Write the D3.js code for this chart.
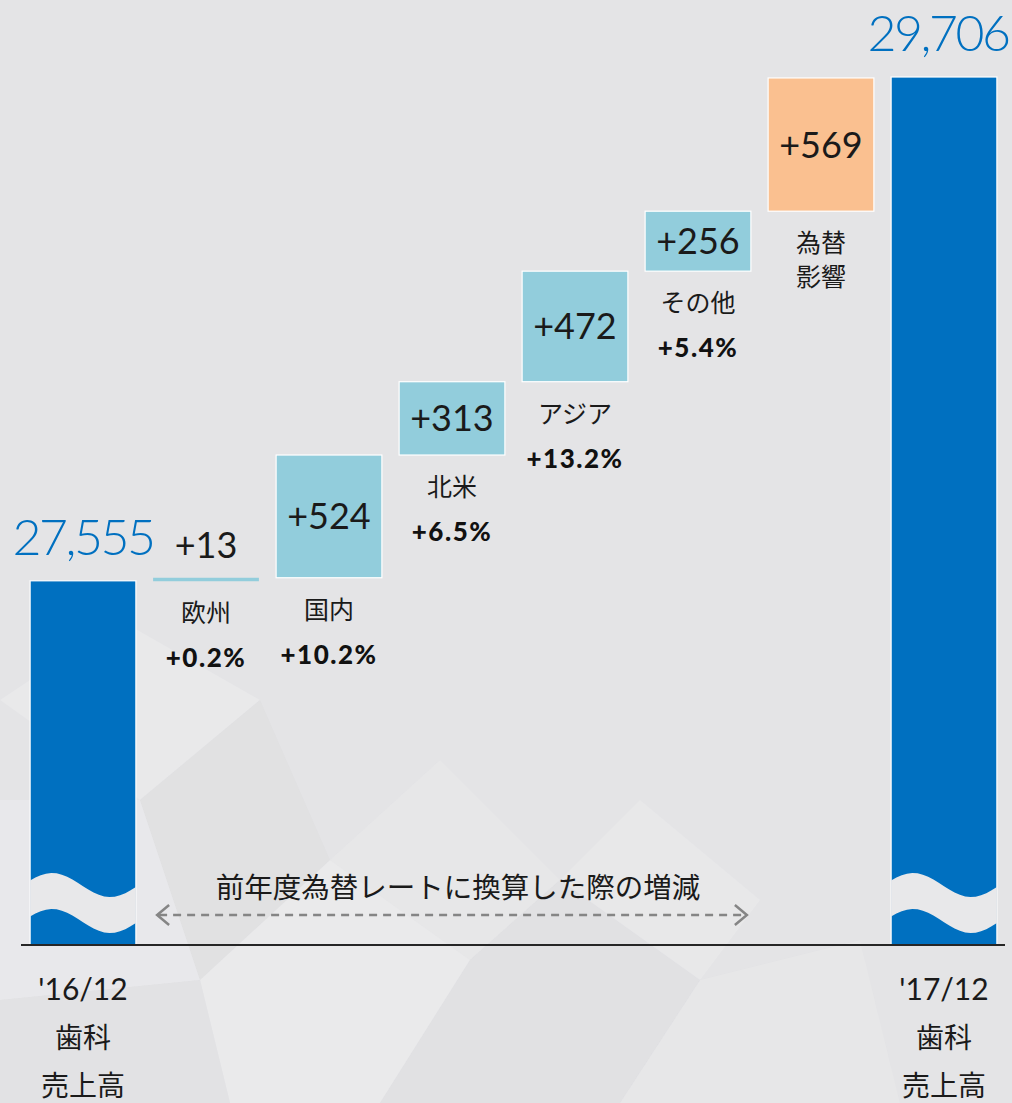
<!DOCTYPE html>
<html>
<head>
<meta charset="utf-8">
<script src="https://cdnjs.cloudflare.com/ajax/libs/d3/7.8.5/d3.min.js"></script>
<style>
    body { margin: 0; background: #e4e4e6; }
    #chart { width: 1012px; height: 1103px; }
    .num { font-family: Lato, "Noto Sans CJK JP", sans-serif; }
    .jp { font-family: "Noto Sans CJK JP", sans-serif; }
</style>
</head>
<body>
<div id="chart"></div>
<script>

/*
DATA
*/

const stepNames = ["start", "欧州", "国内", "北米", "アジア", "その他", "為替影響", "end"];
const startValue = 27555;
const endValue = 29706;
const deltas = [13, 524, 313, 472, 256, 569];
const deltaLabels = ["+13", "+524", "+313", "+472", "+256", "+569"];
const catLines = [["欧州"], ["国内"], ["北米"], ["アジア"], ["その他"], ["為替", "影響"]];
const growthLabels = ["+0.2%", "+10.2%", "+6.5%", "+13.2%", "+5.4%", ""];
const totalLabels = ["27,555", "29,706"];
const periodLines = [["'16/12", "歯科", "売上高"], ["'17/12", "歯科", "売上高"]];
const axisFloor = 26000; // broken axis, bars start here
const noteText = "前年度為替レートに換算した際の増減";

/*
CANVAS
*/

const width = 1012;
const height = 1103;
const baseY = 945;
const topY = 77;

const svg = d3.select("#chart")
    .append("svg")
    .attr("width", width)
    .attr("height", height);

// background facets (kept faint)
const bg = svg.append("g");
bg.append("rect").attr("width", width).attr("height", height).attr("fill", "#e4e4e6");
const facets = [
    {p: [[0,700],[120,620],[260,700],[140,800]], f: "#ffffff", o: 0.18},
    {p: [[0,800],[140,800],[200,980],[0,1000]], f: "#f2f2f3", o: 0.35},
    {p: [[140,800],[260,700],[330,860],[200,980]], f: "#d6d6d8", o: 0.25},
    {p: [[200,980],[330,860],[470,960],[380,1103],[230,1103]], f: "#ffffff", o: 0.22},
    {p: [[330,860],[440,760],[560,880],[470,960]], f: "#f0f0f1", o: 0.25},
    {p: [[470,960],[560,880],[700,980],[620,1103],[380,1103]], f: "#d8d8da", o: 0.25},
    {p: [[560,880],[640,800],[760,900],[700,980]], f: "#ffffff", o: 0.15},
    {p: [[0,1000],[200,980],[230,1103],[0,1103]], f: "#dcdcde", o: 0.25},
    {p: [[700,980],[860,940],[900,1103],[620,1103]], f: "#efeff0", o: 0.25}
];
bg.selectAll("polygon")
    .data(facets)
    .enter()
    .append("polygon")
    .attr("points", function(d){ return d.p.map(function(q){ return q.join(","); }).join(" "); })
    .attr("fill", function(d){ return d.f; })
    .attr("opacity", function(d){ return d.o; });

/*
WATERFALL DATA
*/

const bars = [];
let running = startValue;
bars.push({name: stepNames[0], y0: axisFloor, y1: startValue, kind: "total"});
deltas.forEach(function(d, i){
    bars.push({name: stepNames[i+1], y0: running, y1: running + d, kind: i == deltas.length - 1 ? "fx" : "delta", i: i});
    running += d;
});
bars.push({name: stepNames[7], y0: axisFloor, y1: endValue, kind: "total"});

/*
SCALES
*/

const xScale = d3.scaleBand()
    .domain(stepNames)
    .range([21.5, 1005.5])
    .paddingInner(0.14)
    .paddingOuter(0.07);

const yScale = d3.scaleLinear()
    .domain([axisFloor, endValue])
    .range([baseY, topY]);

const colors = {total: "#0070c0", delta: "#92cddc", fx: "#fac090"};

/*
BARS
*/

svg.selectAll(".bar")
    .data(bars)
    .enter()
    .append("rect")
    .attr("class", "bar")
    .attr("x", function(d){ return xScale(d.name); })
    .attr("y", function(d){ return yScale(d.y1); })
    .attr("width", xScale.bandwidth())
    .attr("height", function(d){ return Math.max(yScale(d.y0) - yScale(d.y1), 3.5); })
    .attr("fill", function(d){ return colors[d.kind]; })
    .attr("stroke", "#ffffff")
    .attr("stroke-width", function(d){ return yScale(d.y0) - yScale(d.y1) < 10 ? 0 : 1.2; });

// axis break waves on the total bars
const bw = xScale.bandwidth();
function waveY(t){ return 885 - 12 * Math.cos(2 * Math.PI * (t * bw - 22) / 116); }
const ts = d3.range(0, 1.0001, 0.05);
[stepNames[0], stepNames[7]].forEach(function(n){
    const x0 = xScale(n);
    const topEdge = ts.map(function(t){ return [x0 + t * bw, waveY(t)]; });
    const botEdge = ts.slice().reverse().map(function(t){ return [x0 + t * bw, waveY(t) + 36]; });
    svg.append("path")
        .attr("d", d3.line()(topEdge.concat(botEdge)) + "Z")
        .attr("fill", "#e8e8ea");
});

/*
AXIS LINE
*/

svg.append("line")
    .attr("x1", 21).attr("x2", 1005)
    .attr("y1", baseY).attr("y2", baseY)
    .attr("stroke", "#262626")
    .attr("stroke-width", 2);

/*
LABELS
*/

const totals = [bars[0], bars[7]];
totals.forEach(function(d, i){
    svg.append("text")
        .attr("class", "num")
        .attr("x", xScale(d.name) + bw / 2 + (i == 1 ? -6 : 0))
        .attr("y", yScale(d.y1) - 26)
        .attr("text-anchor", "middle")
        .attr("fill", "#0070c0")
        .style("font-size", "50px")
        .style("font-weight", 300)
        .style("letter-spacing", "-2.5px")
        .text(totalLabels[i]);

    periodLines[i].forEach(function(line, j){
        svg.append("text")
            .attr("class", j == 0 ? "num" : "jp")
            .attr("x", xScale(d.name) + bw / 2)
            .attr("y", 1000 + j * 48)
            .attr("text-anchor", "middle")
            .attr("fill", "#1a1a1a")
            .style("font-size", j == 0 ? "30px" : "28px")
            .text(line);
    });
});

const deltaBars = bars.filter(function(d){ return d.kind != "total"; });
deltaBars.forEach(function(d, i){
    const cx = xScale(d.name) + bw / 2;
    const top = yScale(d.y1);
    const bottom = yScale(d.y0);
    const small = bottom - top < 40;

    svg.append("text")
        .attr("class", "num")
        .attr("x", cx)
        .attr("y", small ? top - 20 : (top + bottom) / 2 + 13)
        .attr("text-anchor", "middle")
        .attr("fill", "#1a1a1a")
        .style("font-size", "36px")
        .style("font-weight", 400)
        .text(deltaLabels[i]);

    catLines[i].forEach(function(line, j){
        svg.append("text")
            .attr("class", "jp")
            .attr("x", cx)
            .attr("y", bottom + 41 + j * 34)
            .attr("text-anchor", "middle")
            .attr("fill", "#1a1a1a")
            .style("font-size", "25px")
            .text(line);
    });

    if (growthLabels[i] != ""){
        svg.append("text")
            .attr("class", "num")
            .attr("x", cx)
            .attr("y", bottom + 86)
            .attr("text-anchor", "middle")
            .attr("fill", "#111")
            .style("font-size", "26px")
            .style("font-weight", 900)
            .style("letter-spacing", "1.5px")
            .text(growthLabels[i]);
    }
});

/*
NOTE + DASHED ARROW
*/

const arrowX1 = xScale(stepNames[1]) + 2;
const arrowX2 = xScale(stepNames[5]) + bw - 2;
const arrowY = 915;

svg.append("text")
    .attr("class", "jp")
    .attr("x", (arrowX1 + arrowX2) / 2 + 6)
    .attr("y", 898)
    .attr("text-anchor", "middle")
    .attr("fill", "#1a1a1a")
    .style("font-size", "28.5px")
    .text(noteText);

svg.append("line")
    .attr("x1", arrowX1 + 4).attr("x2", arrowX2 - 4)
    .attr("y1", arrowY).attr("y2", arrowY)
    .attr("stroke", "#858585")
    .attr("stroke-width", 2.5)
    .attr("stroke-dasharray", "8,6");

svg.append("path")
    .attr("d", `M${arrowX1 + 14},${arrowY - 10} L${arrowX1 + 2},${arrowY} L${arrowX1 + 14},${arrowY + 10}`)
    .attr("fill", "none").attr("stroke", "#858585").attr("stroke-width", 2.5);

svg.append("path")
    .attr("d", `M${arrowX2 - 14},${arrowY - 10} L${arrowX2 - 2},${arrowY} L${arrowX2 - 14},${arrowY + 10}`)
    .attr("fill", "none").attr("stroke", "#858585").attr("stroke-width", 2.5);

</script>
</body>
</html>
